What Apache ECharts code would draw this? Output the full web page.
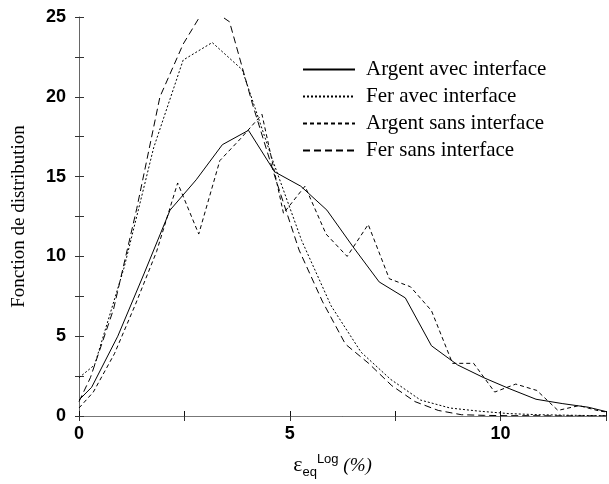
<!DOCTYPE html>
<html>
<head>
<meta charset="utf-8">
<script src="https://cdn.jsdelivr.net/npm/echarts@6/dist/echarts.min.js"></script>
<style>
html,body{margin:0;padding:0;background:#fff;}
#chart{width:609px;height:484px;}
</style>
</head>
<body>
<div id="chart"></div>
<script>
// noms des courbes
var seriesNames = ['Argent avec interface', 'Fer avec interface', 'Argent sans interface', 'Fer sans interface'];

// Argent avec interface (trait plein)
var xArgentAvec = [0, 0.3, 0.92, 1.54, 2.16, 2.78, 3.40, 4.02, 4.64, 5.26, 5.88, 6.50, 7.12, 7.74, 8.36, 8.98, 9.60, 10.22, 10.84, 11.46, 12.08, 12.70];
var yArgentAvec = [1.0, 1.8, 5.0, 8.9, 12.9, 14.8, 17.0, 17.9, 15.3, 14.4, 12.9, 10.6, 8.4, 7.4, 4.4, 3.2, 2.4, 1.7, 1.05, 0.78, 0.55, 0.15];

// Fer avec interface (pointilles)
var xFerAvec = [0, 0.37, 1.07, 1.77, 2.47, 3.16, 3.87, 4.57, 5.28, 5.98, 6.69, 7.39, 8.10, 8.80, 9.50, 10.20, 10.90, 11.60, 12.30, 12.70];
var yFerAvec = [2.4, 3.2, 9.3, 16.8, 22.3, 23.4, 21.7, 16.2, 11.0, 6.9, 4.0, 2.3, 1.0, 0.5, 0.3, 0.15, 0.08, 0.05, 0.02, 0.02];

// Argent sans interface (tirets)
var xArgentSans = [0, 0.34, 0.84, 1.34, 1.84, 2.34, 2.84, 3.34, 3.84, 4.34, 4.85, 5.36, 5.86, 6.36, 6.86, 7.36, 7.86, 8.36, 8.86, 9.36, 9.86, 10.36, 10.86, 11.36, 11.86, 12.36, 12.70];
var yArgentSans = [0.5, 1.5, 3.9, 7.0, 10.3, 14.6, 11.4, 16.0, 17.4, 18.9, 12.7, 14.4, 11.4, 10.0, 12.0, 8.6, 8.1, 6.6, 3.3, 3.3, 1.5, 2.0, 1.6, 0.35, 0.65, 0.3, 0.2];

// Fer sans interface (longs tirets)
var xFerSans = [0, 0.27, 0.82, 1.37, 1.92, 2.47, 3.02, 3.57, 4.12, 4.67, 5.22, 5.77, 6.32, 6.87, 7.42, 7.97, 8.52, 9.07, 9.62, 10.17, 10.72, 11.27, 11.82, 12.37, 12.70];
var yFerSans = [0.9, 2.4, 6.7, 13.0, 20.0, 23.3, 25.7, 24.7, 19.5, 14.8, 10.4, 7.2, 4.5, 3.3, 1.9, 0.9, 0.35, 0.08, 0.04, 0.02, 0.02, 0.01, 0.01, 0.01, 0.01];

var dashes = [null, [2, 2], [4, 3], [7, 4]];

function zip(xs, ys) {
	var out = [];
	for (var i = 0; i < xs.length; i++) out.push([xs[i], ys[i]]);
	return out;
}
var allData = [
	zip(xArgentAvec, yArgentAvec),
	zip(xFerAvec, yFerAvec),
	zip(xArgentSans, yArgentSans),
	zip(xFerSans, yFerSans)
];

var tickFont = 'Liberation Sans';

var myChart = echarts.init(document.getElementById('chart'), null, {renderer: 'canvas'});
var option = {
	animation: false,
	backgroundColor: '#fff',
	grid: {left: 79, top: 17, right: 0, bottom: 63, containLabel: false},
	legend: {
		orient: 'vertical',
		left: 297,
		top: 54,
		itemWidth: 52,
		itemHeight: 20,
		itemGap: 6,
		itemStyle: {opacity: 0},
		textStyle: {fontFamily: 'Liberation Serif', fontSize: 21, color: '#000', padding: [0, 0, 0, 6]},
		data: seriesNames
	},
	xAxis: [{
		type: 'value',
		min: 0,
		max: 12.5,
		interval: 2.5,
		position: 'bottom',
		axisLine: {lineStyle: {color: '#111', width: 1}},
		axisTick: {inside: true, length: 5, lineStyle: {color: '#111'}},
		axisLabel: {
			margin: 9,
			formatter: function(v){ return v % 5 === 0 ? String(v) : ''; },
			fontFamily: tickFont, fontWeight: 'bold', fontSize: 18, color: '#000'
		},
		splitLine: {show: false},
		name: '{e|ε}{sub|eq}{sup|Log}{p| (%)}',
		nameLocation: 'middle',
		nameGap: 36,
		nameTextStyle: {
			padding: [0, 20, 0, 0],
			rich: {
				e: {fontFamily: 'Liberation Serif', fontSize: 22, color: '#000'},
				sub: {fontFamily: 'Liberation Sans', fontSize: 13, color: '#000', padding: [14, 0, 0, 0]},
				sup: {fontFamily: 'Liberation Sans', fontSize: 13, color: '#000', padding: [0, 0, 12, 0]},
				p: {fontFamily: 'Liberation Serif', fontSize: 19, fontStyle: 'italic', color: '#000'}
			}
		}
	}, {
		type: 'value',
		min: 0,
		max: 12.5,
		interval: 2.5,
		position: 'top',
		axisLine: {lineStyle: {color: '#777', width: 1}},
		axisTick: {inside: true, length: 5, lineStyle: {color: '#333'}},
		axisLabel: {show: false},
		splitLine: {show: false}
	}],
	yAxis: [{
		type: 'value',
		min: 0,
		max: 25,
		interval: 2.5,
		axisLine: {show: true, lineStyle: {color: '#666', width: 1}},
		axisTick: {inside: true, length: 5, lineStyle: {color: '#333'}},
		axisLabel: {
			margin: 13,
			formatter: function(v){ return v % 5 === 0 ? String(v) : ''; },
			fontFamily: tickFont, fontWeight: 'bold', fontSize: 18, color: '#000'
		},
		splitLine: {show: false},
		name: 'Fonction de distribution',
		nameLocation: 'middle',
		nameRotate: 90,
		nameGap: 50,
		nameTextStyle: {fontFamily: 'Liberation Serif', fontSize: 19, color: '#000'}
	}, {
		type: 'value',
		min: 0,
		max: 25,
		interval: 2.5,
		position: 'right',
		axisLine: {show: false},
		axisTick: {show: true, inside: true, length: 4, lineStyle: {color: '#333'}},
		axisLabel: {show: false},
		splitLine: {show: false}
	}],
	series: seriesNames.map(function(name, i){
		return {
			name: name,
			type: 'line',
			data: allData[i],
			symbol: 'none',
			clip: true,
			lineStyle: {color: '#000', width: 1, type: dashes[i] || 'solid'},
			itemStyle: {color: '#000'}
		};
	})
};
myChart.setOption(option);
</script>
</body>
</html>
